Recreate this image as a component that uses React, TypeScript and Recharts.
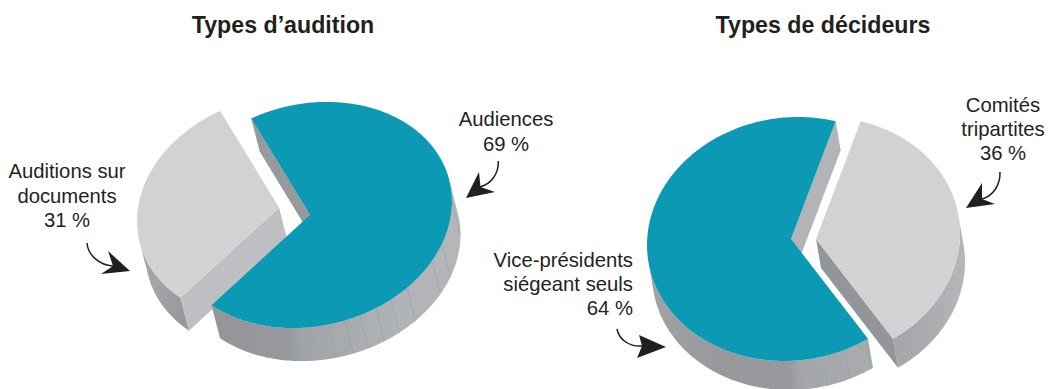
import { Pie, PieChart } from 'recharts';

const hearingNames = ['Auditions sur documents', 'Audiences'];
const hearingValues = [31, 69];
const deciderNames = ['Comités tripartites', 'Vice-présidents siégeant seuls'];
const deciderValues = [36, 64];

// angles of the hairlines on the side wall of each teal slice
const hearingSeams = [-108.4, -100.3, -93.4, -86.4, -80.1, -73, -65.9, -57.6, -41.5, -32.3, -11];
const deciderSeams = [-94.4, -84, -74.8, -65.5];

const TEAL = '#0b99b3';
const LIGHT = '#d1d2d4';
const FONT = '"Liberation Sans", Arial, sans-serif';
const INK = '#231f20';

const rows = (names: string[], values: number[]) =>
  names.map((name, i) => ({ name, value: values[i] }));

type SliceStyle = {
  top: string;
  cut: string;
  shift: [number, number];
  wall: [number, string][];
};

type Tilt = {
  id: string;
  angle: number;
  squash: number;
  drop: [number, number];
  seams: number[];
  slices: Record<string, SliceStyle>;
};

const hearingTilt: Tilt = {
  id: 'hearing',
  angle: 13.7,
  squash: 111 / 143.6,
  drop: [8.5, 33],
  seams: hearingSeams,
  slices: {
    [hearingNames[0]]: {
      top: LIGHT,
      cut: '#bdbfc2',
      shift: [-31, -7.5],
      wall: [[138, '#a9abae'], [182, '#97999c'], [192, '#97999c']],
    },
    [hearingNames[1]]: {
      top: TEAL,
      cut: '#97999c',
      shift: [0, 0],
      wall: [[213, '#939598'], [290, '#97999c'], [300, '#a0a2a5'], [400, '#b1b3b6'], [462, '#b4b6b9']],
    },
  },
};

const deciderTilt: Tilt = {
  id: 'decider',
  angle: 8.1,
  squash: 121.5 / 144.4,
  drop: [5, 29],
  seams: deciderSeams,
  slices: {
    [deciderNames[0]]: {
      top: LIGHT,
      cut: '#939598',
      shift: [25, 0],
      wall: [[893, '#a4a6a9'], [930, '#a9abae'], [965, '#b5b7ba']],
    },
    [deciderNames[1]]: {
      top: TEAL,
      cut: '#b2b4b7',
      shift: [0, 0],
      wall: [[650, '#a0a2a5'], [720, '#97999c'], [790, '#97999c'], [800, '#a3a5a8'], [875, '#a9abae']],
    },
  },
};

const line = (pts: number[][]) => pts.map((p, i) => `${i ? 'L' : 'M'}${p[0].toFixed(2)} ${p[1].toFixed(2)}`).join(' ');

// flat sector from the pie, laid over as a tilted disc with a side wall
const TiltedSlice = ({ cx, cy, outerRadius, startAngle, endAngle, name, tilt }: any) => {
  const style = tilt.slices[name];
  if (!style) return null;
  const [ox, oy] = style.shift;
  const [dx, dy] = tilt.drop;
  const phi = (tilt.angle * Math.PI) / 180;

  const at = (deg: number) => {
    const t = (deg * Math.PI) / 180;
    const px = outerRadius * Math.cos(t);
    const py = outerRadius * tilt.squash * Math.sin(t);
    return [cx + ox + px * Math.cos(phi) - py * Math.sin(phi), cy + oy - px * Math.sin(phi) - py * Math.cos(phi)];
  };
  const apex = [cx + ox, cy + oy];
  const faces = (a: number[], b: number[]) => (b[0] - a[0]) * dy - (b[1] - a[1]) * dx > 0;
  const low = (p: number[]) => [p[0] + dx, p[1] + dy];

  const arc: number[][] = [];
  const steps = Math.ceil(endAngle - startAngle);
  for (let i = 0; i <= steps; i++) arc.push(at(startAngle + ((endAngle - startAngle) * i) / steps));

  const runs: number[][][] = [];
  let run: number[][] = [];
  for (let i = 0; i < arc.length - 1; i++) {
    if (faces(arc[i], arc[i + 1])) {
      if (!run.length) run.push(arc[i]);
      run.push(arc[i + 1]);
    } else if (run.length) {
      runs.push(run);
      run = [];
    }
  }
  if (run.length) runs.push(run);

  const cuts = [[apex, arc[0]], [arc[arc.length - 1], apex]].filter(([a, b]) => faces(a, b));
  const inSlice = (deg: number) => {
    const d = ((deg - startAngle) % 360 + 360) % 360;
    return d <= endAngle - startAngle;
  };
  const seams = tilt.seams.filter(inSlice);
  const isTeal = style.top === TEAL;
  const gradientId = `${tilt.id}-wall-${isTeal ? 'teal' : 'light'}`;

  return (
    <g>
      <defs>
        <linearGradient id={gradientId} gradientUnits="userSpaceOnUse" x1={style.wall[0][0]} y1={0} x2={style.wall[style.wall.length - 1][0]} y2={0}>
          {style.wall.map(([x, color]: [number, string]) => (
            <stop
              key={x}
              offset={(x - style.wall[0][0]) / (style.wall[style.wall.length - 1][0] - style.wall[0][0])}
              stopColor={color}
            />
          ))}
        </linearGradient>
      </defs>
      {runs.map((r, i) => (
        <path key={i} d={`${line([...r, ...[...r].reverse().map(low)])} Z`} fill={`url(#${gradientId})`} />
      ))}
      {cuts.map(([a, b], i) => (
        <path key={i} d={`${line([a, b, low(b), low(a)])} Z`} fill={style.cut} />
      ))}
      {isTeal &&
        seams.map((deg: number) => {
          const p = at(deg);
          return <path key={deg} d={line([p, low(p)])} stroke="#7fa8b1" strokeWidth={0.6} fill="none" />;
        })}
      <path d={`${line([apex, ...arc])} Z`} fill={style.top} />
    </g>
  );
};

const pointers = [
  { tail: 'M498.3 161 C498.8 174 491 184 480 187', head: 'M466 198 L479 172 L480.5 187 L495 192 Z' },
  { tail: 'M87 243 C88 255 99 265 113 266', head: 'M130 271 L108 251 L113 266 L101 274 Z' },
  { tail: 'M1000 172 C1000.5 185 993 196 982 199', head: 'M966 208 L982 183 L982 199 L995 204 Z' },
  { tail: 'M617 329 C619 340 630 347 642 346', head: 'M666 347 L639 335 L642 346 L637 358 Z' },
];

const Caption = ({ x, y, lines, anchor = 'middle' }: { x: number; y: number[]; lines: string[]; anchor?: 'middle' | 'end' }) => (
  <text textAnchor={anchor} fontFamily={FONT} fontSize={20.3} fill={INK}>
    {lines.map((t, i) => (
      <tspan key={t} x={x} y={y[i]}>
        {t}
      </tspan>
    ))}
  </text>
);

const App = () => (
  <div style={{ position: 'absolute', left: 0, top: 0, width: 1057, height: 389, overflow: 'hidden', background: '#fff' }}>
    <PieChart width={1057} height={389} margin={{ top: 0, right: 0, bottom: 0, left: 0 }}>
      <Pie
        data={rows(hearingNames, hearingValues)}
        dataKey="value"
        nameKey="name"
        cx={310}
        cy={215}
        outerRadius={143.6}
        startAngle={103.8}
        endAngle={463.8}
        stroke="none"
        isAnimationActive={false}
        shape={(props: any) => <TiltedSlice {...props} tilt={hearingTilt} />}
      />
      <Pie
        data={rows(deciderNames, deciderValues)}
        dataKey="value"
        nameKey="name"
        cx={791}
        cy={239}
        outerRadius={144.4}
        startAngle={-64.5}
        endAngle={295.5}
        stroke="none"
        isAnimationActive={false}
        shape={(props: any) => <TiltedSlice {...props} tilt={deciderTilt} />}
      />
      <text x={283} y={33} textAnchor="middle" fontFamily={FONT} fontWeight="bold" fontSize={23.2} fill={INK}>
        Types d’audition
      </text>
      <text x={823} y={33} textAnchor="middle" fontFamily={FONT} fontWeight="bold" fontSize={23.2} fill={INK}>
        Types de décideurs
      </text>
      <Caption x={506} y={[126, 151]} lines={['Audiences', '69 %']} />
      <Caption x={67} y={[178, 203, 227]} lines={['Auditions sur', 'documents', '31 %']} />
      <Caption x={1003} y={[112, 136, 160]} lines={['Comités', 'tripartites', '36 %']} />
      <Caption x={633} y={[267, 291, 315]} lines={['Vice-présidents', 'siégeant seuls', '64 %']} anchor="end" />
      {pointers.map((p) => (
        <g key={p.head}>
          <path d={p.tail} fill="none" stroke={INK} strokeWidth={1.5} />
          <path d={p.head} fill={INK} />
        </g>
      ))}
    </PieChart>
  </div>
);

export default App;
